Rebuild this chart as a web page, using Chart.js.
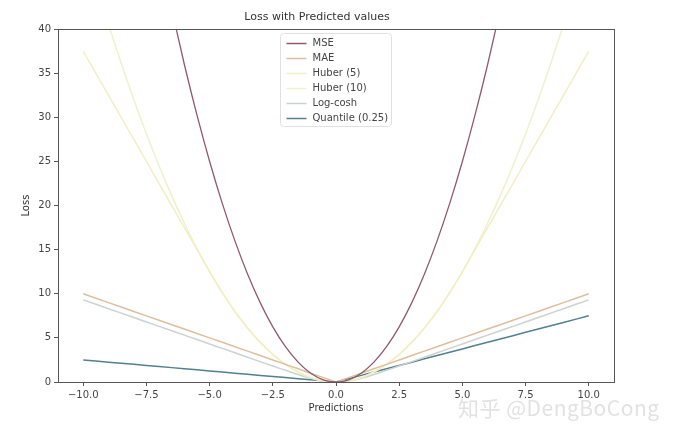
<!DOCTYPE html>
<html>
<head>
<meta charset="utf-8">
<script src="https://cdn.jsdelivr.net/npm/chart.js@4/dist/chart.umd.min.js"></script>
<style>
  body { margin: 0; background: #fff; }
  #wrap { position: relative; width: 678px; height: 433px; }
  #mark {
    position: absolute; left: 458px; top: 392px;
    font: 21px "Noto Sans CJK SC", "DejaVu Sans", sans-serif; color: rgba(210,210,210,0.65);
    letter-spacing: 0.5px;
  }
</style>
</head>
<body>
<div id="wrap">
  <canvas id="lossChart" width="678" height="433"></canvas>
  <div id="mark">知乎 @DengBoCong</div>
</div>
<script>
// predictions (x), step 0.5
const predictions = [-10, -9.5, -9, -8.5, -8, -7.5, -7, -6.5, -6, -5.5, -5, -4.5, -4, -3.5, -3, -2.5, -2, -1.5, -1, -0.5,
  0, 0.5, 1, 1.5, 2, 2.5, 3, 3.5, 4, 4.5, 5, 5.5, 6, 6.5, 7, 7.5, 8, 8.5, 9, 9.5, 10];

const mse = [100, 90.25, 81, 72.25, 64, 56.25, 49, 42.25, 36, 30.25, 25, 20.25, 16, 12.25, 9, 6.25, 4, 2.25, 1, 0.25,
  0, 0.25, 1, 2.25, 4, 6.25, 9, 12.25, 16, 20.25, 25, 30.25, 36, 42.25, 49, 56.25, 64, 72.25, 81, 90.25, 100];

const mae = [10, 9.5, 9, 8.5, 8, 7.5, 7, 6.5, 6, 5.5, 5, 4.5, 4, 3.5, 3, 2.5, 2, 1.5, 1, 0.5,
  0, 0.5, 1, 1.5, 2, 2.5, 3, 3.5, 4, 4.5, 5, 5.5, 6, 6.5, 7, 7.5, 8, 8.5, 9, 9.5, 10];

const huber5 = [37.5, 35, 32.5, 30, 27.5, 25, 22.5, 20, 17.5, 15, 12.5, 10.13, 8, 6.13, 4.5, 3.13, 2, 1.13, 0.5, 0.13,
  0, 0.13, 0.5, 1.13, 2, 3.13, 4.5, 6.13, 8, 10.13, 12.5, 15, 17.5, 20, 22.5, 25, 27.5, 30, 32.5, 35, 37.5];

const huber10 = [50, 45.13, 40.5, 36.13, 32, 28.13, 24.5, 21.13, 18, 15.13, 12.5, 10.13, 8, 6.13, 4.5, 3.13, 2, 1.13, 0.5, 0.13,
  0, 0.13, 0.5, 1.13, 2, 3.13, 4.5, 6.13, 8, 10.13, 12.5, 15.13, 18, 21.13, 24.5, 28.13, 32, 36.13, 40.5, 45.13, 50];

const logcosh = [9.31, 8.81, 8.31, 7.81, 7.31, 6.81, 6.31, 5.81, 5.31, 4.81, 4.31, 3.81, 3.31, 2.81, 2.31, 1.81, 1.33, 0.85, 0.43, 0.12,
  0, 0.12, 0.43, 0.85, 1.33, 1.81, 2.31, 2.81, 3.31, 3.81, 4.31, 4.81, 5.31, 5.81, 6.31, 6.81, 7.31, 7.81, 8.31, 8.81, 9.31];

const quantile = [2.5, 2.38, 2.25, 2.13, 2, 1.88, 1.75, 1.63, 1.5, 1.38, 1.25, 1.13, 1, 0.88, 0.75, 0.63, 0.5, 0.38, 0.25, 0.13,
  0, 0.38, 0.75, 1.13, 1.5, 1.88, 2.25, 2.63, 3, 3.38, 3.75, 4.13, 4.5, 4.88, 5.25, 5.63, 6, 6.38, 6.75, 7.13, 7.5];

const xTicks = [-10, -7.5, -5, -2.5, 0, 2.5, 5, 7.5, 10];
const yTicks = [0, 5, 10, 15, 20, 25, 30, 35, 40];

const seriesNames = ["MSE", "MAE", "Huber (5)", "Huber (10)", "Log-cosh", "Quantile (0.25)"];
const seriesData = [mse, mae, huber5, huber10, logcosh, quantile];
const seriesColors = ["#8f5a6c", "#dcbf9f", "#f2efc4", "#eef2cc", "#cad3cf", "#52808c"];
const smoothCurve = [true, false, true, true, true, false];

const font = { family: "DejaVu Sans", size: 10 };

// box around the plot, like the matplotlib spines
const frame = {
  id: "frame",
  afterDatasetsDraw(chart) {
    const a = chart.chartArea, ctx = chart.ctx;
    ctx.save();
    ctx.strokeStyle = "#555";
    ctx.lineWidth = 1;
    ctx.strokeRect(Math.round(a.left) + 0.5, Math.round(a.top) + 0.5,
      Math.round(a.right - a.left), Math.round(a.bottom - a.top));
    ctx.restore();
  }
};

// legend box inside the plot, upper centre
const innerLegend = {
  id: "innerLegend",
  afterDraw(chart) {
    const ctx = chart.ctx;
    const x0 = 280.5, y0 = 33.5, w = 111, h = 93;
    ctx.save();
    ctx.fillStyle = "rgba(255,255,255,0.85)";
    ctx.strokeStyle = "#e0e0e0";
    ctx.lineWidth = 1;
    ctx.beginPath();
    ctx.roundRect(x0, y0, w, h, 3);
    ctx.fill();
    ctx.stroke();
    ctx.font = "10px 'DejaVu Sans'";
    ctx.textBaseline = "middle";
    chart.data.datasets.forEach((d, i) => {
      const y = y0 + 10 + i * 15;
      ctx.strokeStyle = d.borderColor;
      ctx.lineWidth = 1.5;
      ctx.beginPath();
      ctx.moveTo(x0 + 6, y);
      ctx.lineTo(x0 + 26, y);
      ctx.stroke();
      ctx.fillStyle = "#444";
      ctx.fillText(d.label, x0 + 32, y);
    });
    ctx.restore();
  }
};

new Chart(document.getElementById("lossChart"), {
  type: "line",
  data: {
    datasets: seriesNames.map((name, i) => ({
      label: name,
      data: predictions.map((x, j) => ({ x: x, y: seriesData[i][j] })),
      borderColor: seriesColors[i],
      borderWidth: i === 0 ? 1.3 : 1.5,
      cubicInterpolationMode: smoothCurve[i] ? "monotone" : "default",
      pointRadius: 0,
      fill: false,
    })),
  },
  options: {
    responsive: false,
    animation: false,
    layout: { padding: { left: 20, right: 64, top: 0, bottom: 19 } },
    plugins: {
      legend: { display: false },
      tooltip: { enabled: false },
      title: {
        display: true,
        text: "Loss with Predicted values",
        color: "#333",
        font: { family: "DejaVu Sans", size: 11, weight: "normal" },
        padding: { top: 11, bottom: 5 },
      },
    },
    scales: {
      x: {
        type: "linear",
        min: -11,
        max: 11,
        afterBuildTicks: (s) => { s.ticks = xTicks.map((v) => ({ value: v })); },
        afterFit: (s) => { s.height = 32; },
        ticks: {
          color: "#444", font: font, padding: 3, maxRotation: 0,
          callback: (v) => v.toFixed(1).replace("-", "\u2212"),
        },
        grid: { drawOnChartArea: false, drawTicks: true, tickLength: 4, color: "#555" },
        border: { display: false },
        title: { display: true, text: "Predictions", color: "#333", font: font, padding: { top: 0, bottom: 0 } },
      },
      y: {
        min: 0,
        max: 40,
        afterBuildTicks: (s) => { s.ticks = yTicks.map((v) => ({ value: v })); },
        afterFit: (s) => { s.width = 38; },
        ticks: { color: "#444", font: font, padding: 3 },
        grid: { drawOnChartArea: false, drawTicks: true, tickLength: 4, color: "#555" },
        border: { display: false },
        title: { display: true, text: "Loss", color: "#333", font: font, padding: { top: 0, bottom: 0 } },
      },
    },
  },
  plugins: [frame, innerLegend],
});
</script>
</body>
</html>
